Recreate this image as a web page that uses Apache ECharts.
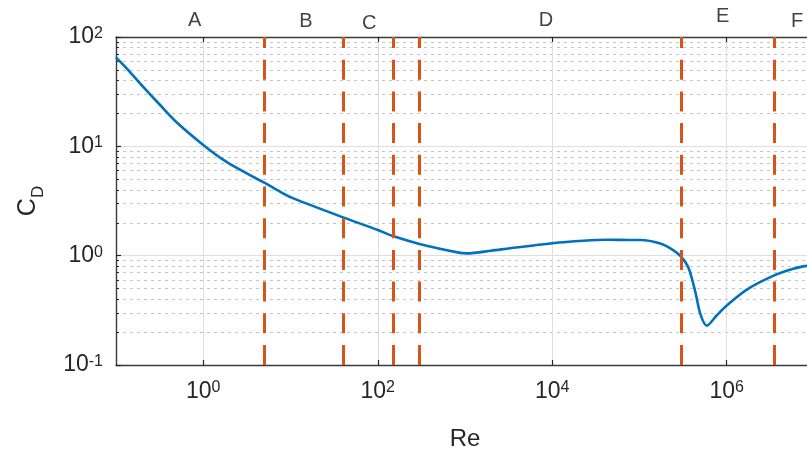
<!DOCTYPE html>
<html>
<head>
<meta charset="utf-8">
<script src="https://cdn.jsdelivr.net/npm/echarts@6/dist/echarts.min.js"></script>
<style>html,body{margin:0;padding:0;background:#fff}#c{width:807px;height:455px}</style>
</head>
<body>
<div id="c"></div>
<script>
// Curve data: Reynolds number vs drag coefficient
const reValues = [0.1, 0.144, 0.205, 0.318, 0.495, 1, 1.85, 3.43, 5, 8.3, 10.8, 40, 100, 150, 300, 880, 1050, 2000, 3300, 10000, 22800, 42000, 85000, 102000, 173000, 245000, 300000, 365000, 435000, 500000, 590000, 770000, 1000000, 1700000, 3500000, 5800000, 8300000, 10000000];
const cdValues = [65, 48, 35, 24, 16.6, 10.3, 7.2, 5.45, 4.65, 3.7, 3.34, 2.24, 1.72, 1.51, 1.28, 1.06, 1.05, 1.11, 1.17, 1.30, 1.37, 1.40, 1.39, 1.39, 1.29, 1.12, 0.98, 0.77, 0.47, 0.29, 0.229, 0.285, 0.35, 0.49, 0.66, 0.76, 0.81, 0.83];
// Regime boundaries (dashed vertical lines)
const boundaries = [5, 40, 150, 300, 300000, 3500000];
// Regime labels
const regionNames = ['A', 'B', 'C', 'D', 'E', 'F'];
const regionRe = [0.8, 15, 80, 8500, 900000, 6400000];
const regionCd = [141, 139, 134, 141, 153, 140];
// Ticks
const xTicks = [1, 100, 10000, 1000000];
const yMinorTicks = [0.2,0.3,0.4,0.5,0.6,0.7,0.8,0.9, 2,3,4,5,6,7,8,9, 20,30,40,50,60,70,80,90];

const curve = reValues.map((r, i) => [r, cdValues[i]]);
const labels = regionRe.map((r, i) => [r, regionCd[i]]);
const bLines = boundaries.map(b => [{coord: [b, 0.1]}, {coord: [b, 100]}]);

const FONT = 'Liberation Sans, Arial, sans-serif';
const AX = '#262626';
function expLabel(v) {
  const e = Math.round(Math.log10(v));
  return '{b|10}{s|' + e + '}';
}
const richLab = {
  b: {fontSize: 23, lineHeight: 23, fontFamily: FONT, color: AX, verticalAlign: 'bottom'},
  s: {fontSize: 16, lineHeight: 16, fontFamily: FONT, color: AX, verticalAlign: 'top', padding: [0, 0, 15, 0]}
};

const chart = echarts.init(document.getElementById('c'), null, {renderer: 'canvas'});
chart.setOption({
  animation: false,
  backgroundColor: '#fff',
  grid: {left: 116, top: 37, right: -7, bottom: 90, containLabel: false, outerBoundsMode: 'none',
         show: false},
  xAxis: [{
    type: 'log', logBase: 10, min: 0.1, max: 1e7, position: 'bottom',
    axisLine: {show: true, onZero: false, lineStyle: {color: '#3a3a3a', width: 1.4}},
    axisTick: {show: true, inside: true, length: 5, customValues: xTicks, lineStyle: {color: AX, width: 1.2}},
    axisLabel: {show: true, customValues: xTicks, margin: 15, formatter: expLabel, rich: richLab},
    splitLine: {show: true, lineStyle: {color: '#dedede', width: 1}},
    name: 'Re', nameLocation: 'middle', nameGap: 62,
    nameTextStyle: {fontSize: 24, fontFamily: FONT, color: AX}
  }, {
    type: 'log', logBase: 10, min: 0.1, max: 1e7, position: 'top',
    axisLine: {show: true, onZero: false, lineStyle: {color: '#3a3a3a', width: 1.4}},
    axisTick: {show: true, inside: true, length: 5, customValues: xTicks, lineStyle: {color: AX, width: 1.2}},
    axisLabel: {show: false},
    splitLine: {show: false}
  }],
  yAxis: [{
    type: 'log', logBase: 10, min: 0.1, max: 100, position: 'left',
    axisLine: {show: true, onZero: false, lineStyle: {color: '#3a3a3a', width: 1.4}},
    axisTick: {show: true, inside: true, length: 5, lineStyle: {color: AX, width: 1.2}},
    axisLabel: {show: true, margin: 13, formatter: expLabel, rich: richLab},
    splitLine: {show: true, lineStyle: {color: '#dedede', width: 1}},
    name: '{c|C}{d|D}', nameLocation: 'middle', nameGap: 75, nameRotate: 90,
    nameTextStyle: {
      rich: {
        c: {fontSize: 25, lineHeight: 25, fontFamily: FONT, color: AX, verticalAlign: 'top'},
        d: {fontSize: 17, lineHeight: 17, fontFamily: FONT, color: AX, verticalAlign: 'top', padding: [14, 0, 0, 0]}
      }
    }
  }, {
    type: 'log', logBase: 10, min: 0.1, max: 100, position: 'left',
    axisLine: {show: false},
    axisTick: {show: true, inside: true, length: 3, customValues: yMinorTicks, lineStyle: {color: AX, width: 1}},
    axisLabel: {show: false},
    splitLine: {show: true, lineStyle: {color: '#c4c4c4', width: 1, type: [3, 4]}}
  }],
  series: [{
    type: 'line', name: 'CD', xAxisIndex: 0, yAxisIndex: 0,
    data: curve, smooth: 0.3, showSymbol: false, symbol: 'none',
    lineStyle: {color: '#0072BD', width: 2.6}, z: 3, silent: true
  }, {
    type: 'scatter', xAxisIndex: 0, yAxisIndex: 0, clip: false,
    data: labels, symbolSize: 0, z: 5, silent: true,
    label: {show: true, position: 'inside', formatter: p => regionNames[p.dataIndex],
            fontSize: 20, fontFamily: FONT, color: '#111'},
    markLine: {
      silent: true, symbol: ['none', 'none'], label: {show: false},
      lineStyle: {color: '#D95319', width: 3, type: [20, 11.7], cap: 'butt'},
      emphasis: {disabled: true},
      data: bLines
    }
  }]
});
</script>
</body>
</html>
